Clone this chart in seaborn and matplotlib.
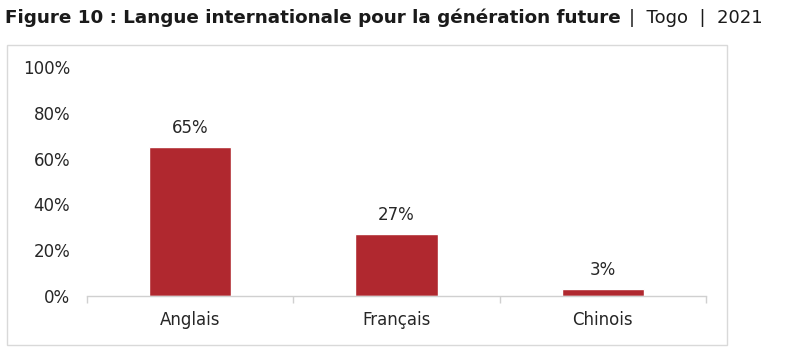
import matplotlib
matplotlib.use("Agg")
import matplotlib.pyplot as plt
import pandas as pd
import seaborn as sns
from matplotlib.patches import Rectangle
from matplotlib.ticker import FixedLocator, PercentFormatter

# Data
langues = ["Anglais", "Français", "Chinois"]
parts = [65, 27, 3]
etiquettes = ["65%", "27%", "3%"]
yticks = [0, 20, 40, 60, 80, 100]

df = pd.DataFrame({"langue": langues, "part": parts})

sns.set_style("white")
plt.rcParams["font.family"] = ["DejaVu Sans"]

fig = plt.figure(figsize=(8.05, 3.58), dpi=100)
ax = fig.add_axes([87 / 805, 1 - 296 / 358, 619 / 805, 229 / 358])

sns.barplot(data=df, x="langue", y="part", color="#B0282F", width=0.4,
            saturation=1, ax=ax)

for i, (v, lab) in enumerate(zip(parts, etiquettes)):
    ax.text(i, v + 4.5, lab, ha="center", va="bottom", fontsize=12, color="#262626")

ax.set_xlim(-0.5, 2.5)
ax.set_ylim(0, 100)
ax.set_yticks(yticks)
ax.yaxis.set_major_formatter(PercentFormatter(decimals=0))
ax.set(xlabel="", ylabel="")
ax.tick_params(axis="y", length=0, labelsize=12, labelcolor="#262626", pad=12)
ax.tick_params(axis="x", which="major", length=0, labelsize=12,
               labelcolor="#262626", pad=11)
ax.xaxis.set_minor_locator(FixedLocator([-0.5, 0.5, 1.5, 2.5]))
ax.tick_params(axis="x", which="minor", bottom=True, length=5,
               color="#d0d0d0", width=1, direction="out")

for s in ["top", "right", "left"]:
    ax.spines[s].set_visible(False)
ax.spines["bottom"].set_color("#d0d0d0")
ax.spines["bottom"].set_linewidth(1)

# outer frame
fig.patches.append(Rectangle((7 / 805, 1 - 345 / 358), 720 / 805, 300 / 358,
                             transform=fig.transFigure, fill=False,
                             edgecolor="#d9d9d9", linewidth=1))

# title
t = fig.text(5 / 805, 1 - 18 / 358, "Figure 10 : Langue internationale pour la génération future",
             fontsize=13.2, fontweight="bold", va="center", ha="left", color="#1a1a1a")
fig.canvas.draw()
bb = t.get_window_extent()
fig.text((bb.x1 + 8) / 805, 1 - 18 / 358, "|  Togo  |  2021", fontsize=13,
         va="center", ha="left", color="#1a1a1a")

fig.savefig("out.png", dpi=100)
